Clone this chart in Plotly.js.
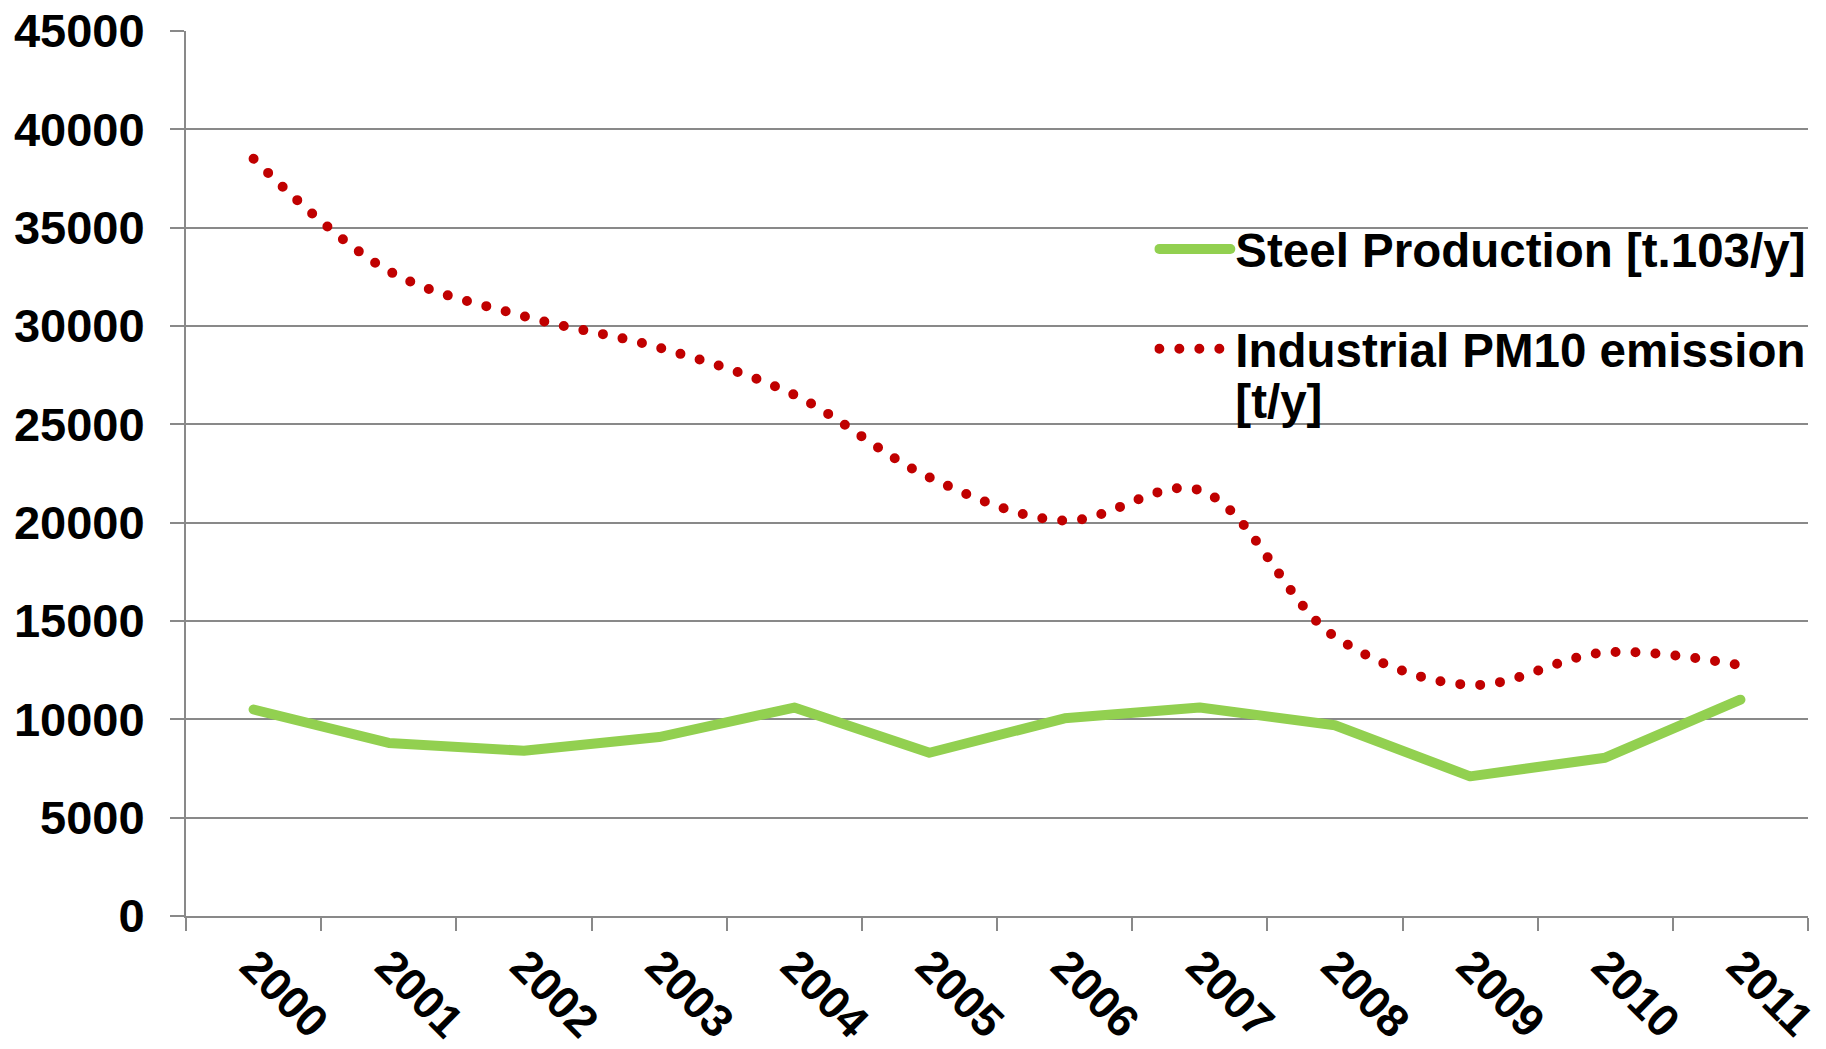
<!DOCTYPE html>
<html>
<head>
<meta charset="utf-8">
<script src="https://cdn.plot.ly/plotly-3.0.1.min.js"></script>
<style>
  html, body { margin: 0; padding: 0; background: #ffffff; }
  #chart { width: 1826px; height: 1049px; }
  .js-line, .legendlines path { stroke-linecap: round; stroke-linejoin: round; }
</style>
</head>
<body>
<div id="chart"></div>
<script>
const years = ["2000","2001","2002","2003","2004","2005","2006","2007","2008","2009","2010","2011"];
const steelProduction = [10500, 8800, 8400, 9100, 10600, 8300, 10050, 10600, 9700, 7100, 8050, 11000];
const pm10Emission = [38500, 32800, 30500, 28900, 26500, 22300, 20100, 21650, 14200, 11750, 13400, 12750];
const steelName = "Steel Production [t.103/y]";
const pm10Name = "Industrial PM10 emission<br>[t/y]";
const yTicks = [0, 5000, 10000, 15000, 20000, 25000, 30000, 35000, 40000, 45000];

const fontFam = "Liberation Sans, Arial, Helvetica, sans-serif";
const gridGray = "#898989";

const traces = [
  {
    x: years, y: steelProduction, name: steelName, type: "scatter", mode: "lines",
    line: { color: "#92D050", width: 10 },
    legendgroup: "g1"
  },
  {
    x: years, y: pm10Emission, name: pm10Name, type: "scatter", mode: "lines",
    line: { color: "#C00000", width: 10, dash: "0px,20px", shape: "spline", smoothing: 1 },
    legendgroup: "g2"
  }
];

const layout = {
  width: 1826, height: 1049,
  margin: { l: 186, r: 18, t: 31, b: 133 },
  paper_bgcolor: "#ffffff", plot_bgcolor: "#ffffff",
  font: { family: fontFam, color: "#000000" },
  showlegend: true,
  legend: {
    x: 0.597, y: 0.796, xanchor: "left", yanchor: "top",
    bgcolor: "rgba(0,0,0,0)",
    font: { family: fontFam, size: 47.5, color: "#000000", weight: "bold" },
    itemwidth: 71, traceorder: "grouped", tracegroupgap: 35, valign: "top"
  },
  xaxis: {
    type: "category", range: [-0.5, 11.5],
    showline: true, linecolor: gridGray, linewidth: 2,
    ticks: "outside", tickson: "boundaries", ticklen: 13, tickwidth: 2, tickcolor: gridGray,
    tickangle: 45, showgrid: false, zeroline: false,
    tickfont: { family: fontFam, size: 45.5, color: "#000000", weight: "bold" },
    ticklabelstandoff: 3
  },
  yaxis: {
    range: [0, 45000], tickvals: yTicks, tickformat: "d",
    showline: true, linecolor: gridGray, linewidth: 2,
    ticks: "outside", ticklen: 14, tickwidth: 2, tickcolor: gridGray,
    showgrid: true, gridcolor: gridGray, gridwidth: 2, zeroline: false,
    tickfont: { family: fontFam, size: 47, color: "#000000", weight: "bold" },
    ticklabelstandoff: 16
  }
};

Plotly.newPlot("chart", traces, layout, { displayModeBar: false, staticPlot: true }).then(function () {
  // tighter line spacing for the wrapped legend label, as in the reference
  document.querySelectorAll(".legendtext tspan.line").forEach(function (t) {
    if (t.getAttribute("dy") === "1.3em") t.setAttribute("dy", "1.08em");
  });
});
</script>
</body>
</html>
